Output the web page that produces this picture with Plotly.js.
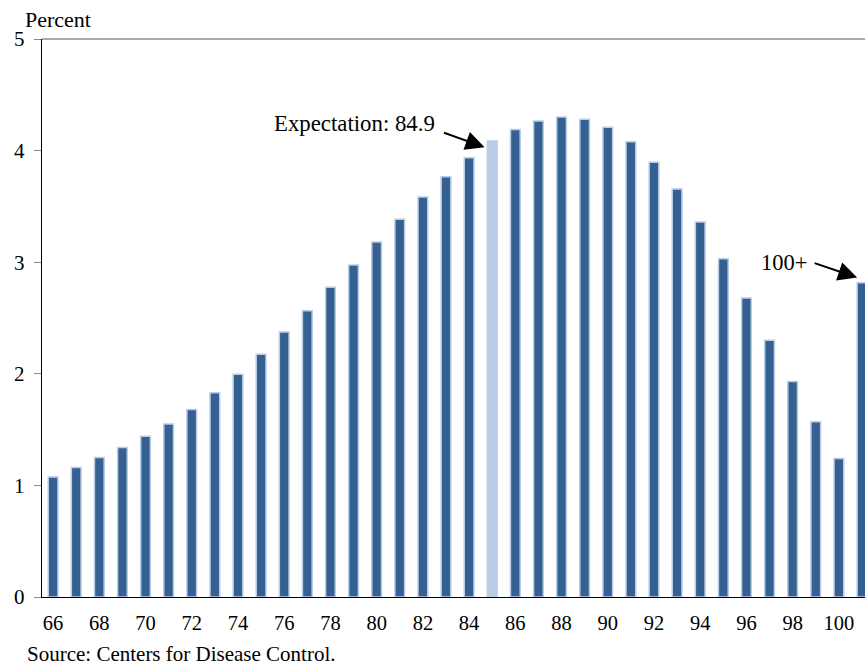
<!DOCTYPE html>
<html>
<head>
<meta charset="utf-8">
<script src="https://cdn.plot.ly/plotly-3.0.1.min.js"></script>
<style>
html,body{margin:0;padding:0;background:#fff;}
#chart{width:865px;height:668px;}
</style>
</head>
<body>
<div id="chart"></div>
<script>
// Age at death (categories; 101 stands for "100+")
var ages = [66,67,68,69,70,71,72,73,74,75,76,77,78,79,80,81,82,83,84,85,86,87,88,89,90,91,92,93,94,95,96,97,98,99,100,101];
// Percent of deaths at each age
var percents = [1.075,1.16,1.25,1.34,1.44,1.55,1.68,1.83,1.995,2.175,2.375,2.565,2.775,2.975,3.18,3.385,3.585,3.765,3.935,4.085,4.19,4.265,4.30,4.28,4.21,4.08,3.895,3.655,3.36,3.03,2.68,2.30,1.93,1.57,1.24,2.815];
var expectationAge = 85;
var tickVals = [66,68,70,72,74,76,78,80,82,84,86,88,90,92,94,96,98,100];
var tickText = ["66","68","70","72","74","76","78","80","82","84","86","88","90","92","94","96","98","100"];
var yTicks = [0,1,2,3,4,5];

var dark = '#366092', light = '#b9cde5';
var colors = ages.map(function(a){ return a === expectationAge ? light : dark; });

var font = 'Liberation Serif, Times New Roman, serif';

var trace = {
  type: 'bar',
  x: ages,
  y: percents,
  width: 0.42,
  marker: {color: colors, line: {color: light, width: 1.5}},
  hoverinfo: 'skip'
};

var layout = {
  width: 865, height: 668,
  margin: {l: 42, r: 0, t: 39, b: 71, pad: 0},
  paper_bgcolor: '#fff', plot_bgcolor: '#fff',
  showlegend: false,
  font: {family: font, size: 20, color: '#000'},
  xaxis: {
    range: [65.52, 101.13],
    tickmode: 'array', tickvals: tickVals, ticktext: tickText,
    ticks: 'outside', ticklen: 7, tickcolor: 'rgba(0,0,0,0)',
    showgrid: false, zeroline: false,
    showline: true, linecolor: '#000', linewidth: 1.2,
    tickfont: {family: font, size: 20.5, color: '#000'}
  },
  yaxis: {
    range: [0, 5],
    tickmode: 'array', tickvals: yTicks,
    ticks: 'outside', ticklen: 7, tickcolor: '#888', tickwidth: 1,
    ticklabelstandoff: 5,
    showgrid: false, zeroline: false,
    showline: true, linecolor: '#000', linewidth: 1.2,
    tickfont: {family: font, size: 21, color: '#000'}
  },
  shapes: [
    {type: 'line', xref: 'paper', yref: 'paper', x0: 0, x1: 1, y0: 1, y1: 1,
     line: {color: '#555', width: 1}}
  ],
  annotations: [
    {xref: 'paper', yref: 'paper', x: -0.0225, y: 1.0, xanchor: 'left', yanchor: 'bottom',
     yshift: 5, text: 'Percent', showarrow: false, font: {family: font, size: 22}},
    {xref: 'paper', yref: 'paper', x: -0.0205, y: 0, xanchor: 'left', yanchor: 'top',
     yshift: -43, text: 'Source: Centers for Disease Control.', showarrow: false,
     font: {family: font, size: 21}},
    {xref: 'x', yref: 'y', x: 82.62, y: 4.24, xanchor: 'right', yanchor: 'middle',
     text: 'Expectation: 84.9', showarrow: false, font: {family: font, size: 22.8}},
    {xref: 'x', yref: 'y', x: 84.67, y: 4.03, ax: -42, ay: -15, text: '',
     showarrow: true, arrowhead: 2, arrowsize: 1.9, arrowwidth: 2, arrowcolor: '#000', standoff: 0},
    {xref: 'x', yref: 'y', x: 98.7, y: 3.0, xanchor: 'right', yanchor: 'middle',
     text: '100+', showarrow: false, font: {family: font, size: 22.5}},
    {xref: 'x', yref: 'y', x: 100.79, y: 2.862, ax: -44, ay: -15, text: '',
     showarrow: true, arrowhead: 2, arrowsize: 1.9, arrowwidth: 2, arrowcolor: '#000', standoff: 0}
  ]
};

Plotly.newPlot('chart', [trace], layout, {displayModeBar: false, staticPlot: true});
</script>
</body>
</html>
